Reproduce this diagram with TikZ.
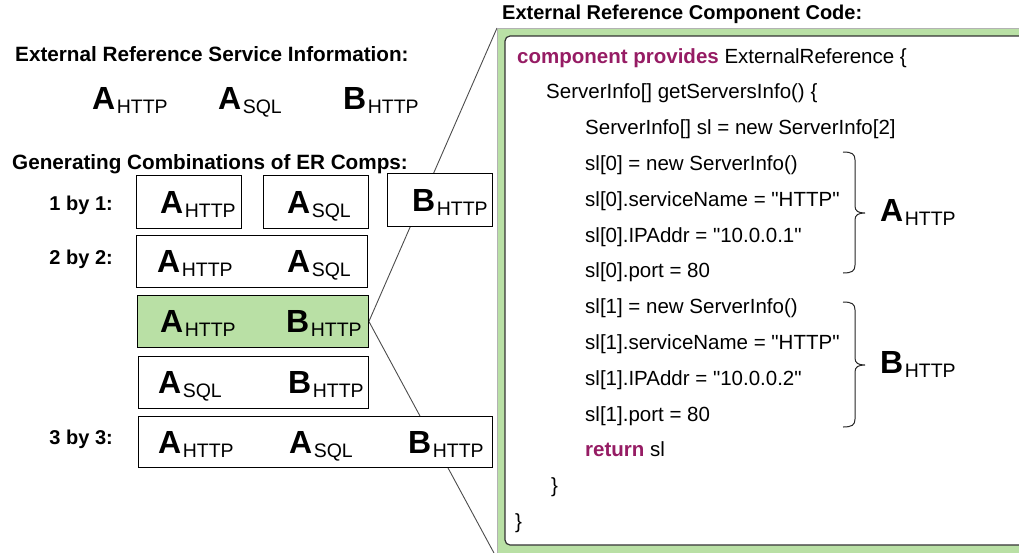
\documentclass[tikz,border=0pt]{standalone}
\usepackage{fontspec}
\setmainfont{Liberation Sans}
\usetikzlibrary{backgrounds}
\definecolor{kw}{RGB}{150,28,100}
\definecolor{lgreen}{HTML}{B9E0A5}
\newcommand{\er}[2]{{\fontsize{32}{32}\selectfont\bfseries #1}\kern1.5pt\raisebox{-4pt}{\fontsize{19.5}{20}\selectfont #2}}
\newcommand{\qt}{\textquotedbl}
\begin{document}
\begin{tikzpicture}[x=1pt,y=-1pt,
  box/.style={draw=black, line width=0.9pt, fill=white, anchor=north west, inner sep=0pt},
  erl/.style={anchor=base west, inner sep=0pt},
  head/.style={anchor=base west, inner sep=0pt, font=\fontsize{20.7}{24}\selectfont\bfseries},
  lab/.style={anchor=base east, inner sep=0pt, font=\fontsize{20}{24}\selectfont\bfseries},
  codeline/.style={anchor=base west, inner sep=0pt, font=\fontsize{20.5}{24}\selectfont},
  bracepath/.style={draw=black!85, line width=1pt},
  link/.style={draw=black!70, line width=0.9pt}]
\useasboundingbox (0,0) rectangle (1019,552);

% headings
\node[head] (h1) at (15,61) {External Reference Service Information:};
\node[head] (h2) at (12,169) {Generating Combinations of ER Comps:};
\node[head, font=\fontsize{20}{24}\selectfont\bfseries] (h3) at (502,19) {External Reference Component Code:};

% service info row
\node[erl] (s1) at (92,109) {\er{A}{HTTP}};
\node[erl] (s2) at (218,109) {\er{A}{SQL}};
\node[erl] (s3) at (343,109) {\er{B}{HTTP}};

% row labels
\node[lab] (l1) at (113,210) {1 by 1:};
\node[lab] (l2) at (113,264) {2 by 2:};
\node[lab] (l3) at (113,444) {3 by 3:};

% code box
\node[draw=black!30, line width=0.6pt, fill=lgreen, anchor=north west, minimum width=560pt, minimum height=530pt, inner sep=0pt] (code) at (497,28) {};
\draw[draw=black!80, line width=1.2pt, fill=white, rounded corners=5pt] (505,36) rectangle (1060,545);

% combination boxes
\node[box, minimum width=105pt, minimum height=53pt] (b11) at (136,175) {};
\node[box, minimum width=105pt, minimum height=53pt] (b12) at (263,175) {};
\node[box, minimum width=105pt, minimum height=53pt] (b13) at (387,173) {};
\node[box, minimum width=231pt, minimum height=52pt] (b21) at (136,235) {};
\node[box, fill=lgreen, minimum width=231pt, minimum height=52pt] (sel) at (137,295) {};
\node[box, minimum width=230pt, minimum height=52pt] (b23) at (138,356) {};
\node[box, minimum width=354pt, minimum height=51pt] (b31) at (138,416) {};

\begin{scope}[on background layer]
\draw[link] (code.north west) -- (sel.east) -- (code.south west);
\end{scope}

% box contents
\node[erl] (t11) at (160,213) {\er{A}{HTTP}};
\node[erl] (t12) at (287,213) {\er{A}{SQL}};
\node[erl] (t13) at (412,211) {\er{B}{HTTP}};
\node[erl] (t21a) at (157,272) {\er{A}{HTTP}};
\node[erl] (t21b) at (287,272) {\er{A}{SQL}};
\node[erl] (t22a) at (160,332) {\er{A}{HTTP}};
\node[erl] (t22b) at (286,332) {\er{B}{HTTP}};
\node[erl] (t23a) at (158,393) {\er{A}{SQL}};
\node[erl] (t23b) at (288,393) {\er{B}{HTTP}};
\node[erl] (t31a) at (158,453) {\er{A}{HTTP}};
\node[erl] (t31b) at (289,453) {\er{A}{SQL}};
\node[erl] (t31c) at (408,453) {\er{B}{HTTP}};

% code lines
\node[codeline] (c0) at (517,63) {\textcolor{kw}{\bfseries component provides} ExternalReference \{};
\node[codeline] (c1) at (546,98.8) {ServerInfo[] getServersInfo() \{};
\node[codeline] (c2) at (585,134.6) {ServerInfo[] sl = new ServerInfo[2]};
\node[codeline] (c3) at (585,170.4) {sl[0] = new ServerInfo()};
\node[codeline] (c4) at (585,206.2) {sl[0].serviceName = \qt HTTP\qt};
\node[codeline] (c5) at (585,242) {sl[0].IPAddr = \qt 10.0.0.1\qt};
\node[codeline] (c6) at (585,277.8) {sl[0].port = 80};
\node[codeline] (c7) at (585,313.6) {sl[1] = new ServerInfo()};
\node[codeline] (c8) at (585,349.4) {sl[1].serviceName = \qt HTTP\qt};
\node[codeline] (c9) at (585,385.2) {sl[1].IPAddr = \qt 10.0.0.2\qt};
\node[codeline] (c10) at (585,421) {sl[1].port = 80};
\node[codeline] (c11) at (585,456.8) {\textcolor{kw}{\bfseries return} sl};
\node[codeline] (c12) at (551,492.6) {\}};
\node[codeline] (c13) at (515,528.4) {\}};

% braces
\draw[bracepath] (843,152) .. controls (852,152) and (855,154) .. (855,160) -- (855,206) .. controls (855,211) and (858,213) .. (865,213) .. controls (858,213) and (855,215) .. (855,220) -- (855,265) .. controls (855,271) and (852,273) .. (843,273);
\draw[bracepath] (843,302) .. controls (852,302) and (855,304) .. (855,310) -- (855,358) .. controls (855,363) and (858,365) .. (865,365) .. controls (858,365) and (855,367) .. (855,372) -- (855,419) .. controls (855,425) and (852,427) .. (843,427);
\node[erl] (ba) at (880,221) {\er{A}{HTTP}};
\node[erl] (bb) at (880,373) {\er{B}{HTTP}};
\end{tikzpicture}
\end{document}
